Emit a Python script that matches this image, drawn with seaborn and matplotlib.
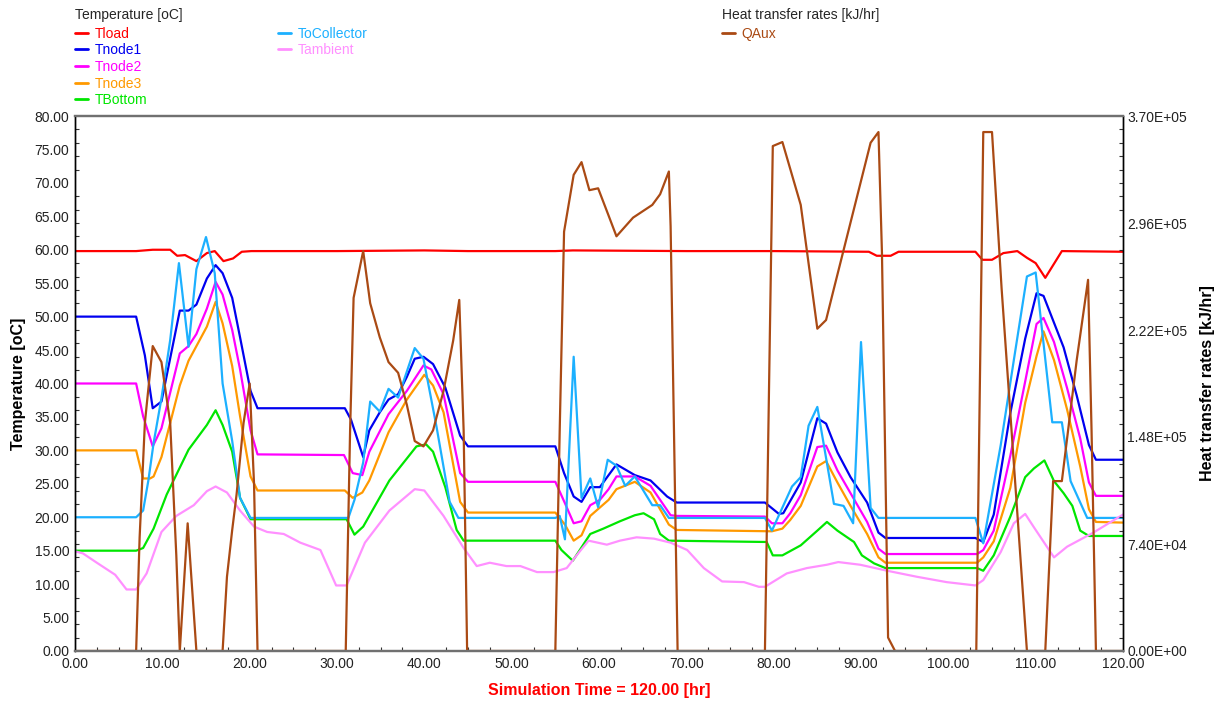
import matplotlib
matplotlib.use("Agg")
import matplotlib.pyplot as plt
import numpy as np
import pandas as pd
import seaborn as sns
from matplotlib.lines import Line2D
from matplotlib.ticker import MultipleLocator, FormatStrFormatter, FuncFormatter, AutoMinorLocator

# ---- data: simulation time [hr] and values for each output ----
tload_t = [0, 7, 8.9, 10.9, 11.7, 12.6, 13.9, 15.1, 16.0, 17.0, 18.1, 19.1, 20.2, 30, 40, 45, 55, 57,
           70, 80, 90.9, 91.8, 93.4, 94.3, 103.1, 103.9, 105.0, 106.3, 107.9, 109.0, 110.0, 111.1, 113.0, 120]
tload_v = [59.8, 59.8, 60.0, 60.0, 59.1, 59.2, 58.3, 59.5, 59.8, 58.3, 58.7, 59.7, 59.8, 59.8, 59.9, 59.8, 59.8, 59.9,
           59.8, 59.8, 59.7, 59.1, 59.1, 59.7, 59.7, 58.5, 58.5, 59.5, 59.8, 58.8, 58.0, 55.8, 59.8, 59.7]

tnode1_t = [0, 7.0, 8.0, 8.9, 9.9, 12.0, 13.0, 13.9, 15.1, 16.1, 16.9, 18.0, 18.9, 20.1, 20.9, 30.9, 31.6, 33.0,
            33.7, 34.9, 35.9, 37.0, 38.0, 38.9, 39.9, 41.0, 42.4, 44.1, 45.0, 55.0, 56.0, 57.1, 58.0, 59.0, 60.1,
            61.1, 62.0, 64.1, 65.9, 67.8, 68.9, 79.0, 80.6, 81.1, 83.1, 85.0, 86.0, 87.3, 88.8, 90.7, 92.0, 92.8,
            103.1, 104.0, 105.2, 107.1, 108.8, 110.1, 110.9, 113.2, 114.7, 116.1, 116.9, 120]
tnode1_v = [50.0, 50.0, 44.2, 36.3, 37.3, 50.9, 50.9, 51.8, 55.7, 57.7, 56.5, 52.8, 46.9, 38.9, 36.3, 36.3, 34.6, 29.0,
            33.0, 35.7, 37.6, 38.4, 41.0, 43.7, 44.0, 42.9, 39.4, 32.2, 30.6, 30.6, 26.6, 23.1, 22.3, 24.5, 24.5,
            26.3, 27.9, 26.3, 25.5, 23.1, 22.2, 22.2, 20.5, 20.6, 25.2, 34.8, 34.0, 29.7, 26.0, 22.2, 17.7, 16.9,
            16.9, 16.3, 20.4, 35.6, 46.7, 53.5, 53.1, 45.4, 38.2, 30.8, 28.6, 28.6]

tnode2_t = [0, 7.0, 7.8, 8.9, 9.9, 12.0, 13.0, 13.9, 15.1, 16.1, 16.9, 18.0, 18.9, 20.1, 20.9, 30.8, 31.8, 32.9,
            33.7, 35.9, 38.0, 39.9, 40.8, 42.2, 44.1, 45.0, 55.0, 56.1, 57.1, 58.0, 59.0, 60.1, 61.1, 62.0, 64.1,
            65.9, 68.2, 68.9, 79.0, 79.8, 81.0, 81.9, 83.1, 85.0, 86.0, 87.3, 88.8, 90.7, 92.0, 92.8, 103.3, 104.0,
            105.2, 107.1, 108.8, 110.1, 110.9, 112.1, 113.6, 115.1, 116.1, 116.9, 120]
tnode2_v = [40.0, 40.0, 35.1, 30.6, 33.3, 44.5, 45.6, 47.4, 51.2, 55.2, 53.3, 48.0, 42.1, 33.0, 29.4, 29.3, 26.6, 26.3,
            29.8, 35.4, 38.9, 42.7, 42.1, 38.4, 26.6, 25.3, 25.3, 22.1, 19.1, 19.4, 21.8, 22.6, 24.2, 26.1, 26.1,
            24.7, 20.3, 20.2, 20.1, 19.1, 19.1, 20.6, 23.3, 30.5, 30.7, 27.0, 23.6, 19.3, 15.3, 14.5, 14.5, 15.1,
            18.0, 29.2, 40.3, 48.9, 49.8, 46.2, 39.3, 31.8, 25.2, 23.2, 23.2]

tnode3_t = [0, 7.0, 7.8, 8.6, 9.0, 9.9, 12.0, 13.0, 15.1, 16.1, 16.9, 18.0, 18.9, 20.1, 20.9, 30.9, 31.8, 32.9,
            33.7, 35.9, 38.0, 40.0, 41.0, 42.2, 44.1, 45.0, 55.0, 56.1, 57.1, 58.0, 59.0, 61.1, 62.0, 64.1, 65.9,
            68.0, 68.9, 79.8, 81.0, 81.9, 83.1, 85.0, 86.0, 87.3, 88.8, 90.7, 92.0, 92.8, 103.3, 104.0, 105.2,
            107.1, 108.8, 110.1, 110.9, 112.1, 113.6, 115.1, 116.1, 116.9, 120]
tnode3_v = [30.0, 30.0, 25.8, 25.8, 26.1, 29.0, 39.7, 43.4, 48.5, 52.2, 49.0, 42.6, 35.1, 26.1, 24.0, 24.0, 22.9, 23.7,
            25.5, 32.7, 37.6, 41.3, 39.7, 35.7, 22.3, 20.7, 20.7, 18.9, 16.5, 17.3, 20.2, 22.6, 24.2, 25.3, 23.7,
            18.9, 18.1, 17.9, 18.3, 19.6, 21.7, 27.6, 28.4, 25.2, 21.7, 17.5, 14.0, 13.2, 13.2, 14.0, 16.4,
            24.4, 37.1, 44.1, 47.8, 43.5, 36.1, 27.6, 21.2, 19.3, 19.2]

tbottom_t = [0, 7.0, 7.8, 9.0, 10.5, 13.0, 15.1, 16.1, 16.9, 18.0, 18.9, 20.1, 31.1, 32.0, 33.0, 36.0, 39.1, 40.2,
             41.0, 42.4, 43.7, 44.5, 55.0, 55.7, 57.0, 59.0, 60.5, 62.4, 64.1, 65.1, 66.3, 67.0, 68.0, 79.2, 79.9,
             81.0, 83.1, 85.0, 86.1, 87.3, 89.2, 90.1, 91.5, 92.8, 103.3, 104.0, 105.2, 107.1, 108.8, 109.8, 111.0,
             112.1, 113.2, 114.2, 115.1, 116.1, 120]
tbottom_v = [15.0, 15.0, 15.4, 18.3, 23.4, 30.1, 33.8, 36.0, 33.8, 29.8, 22.9, 19.7, 19.7, 17.4, 18.6, 25.5, 30.6, 30.9,
             29.8, 24.5, 18.1, 16.5, 16.5, 15.1, 13.5, 17.5, 18.3, 19.4, 20.3, 20.6, 19.7, 17.5, 16.5, 16.3, 14.3,
             14.3, 15.8, 18.0, 19.3, 18.0, 16.3, 14.3, 13.1, 12.4, 12.4, 12.0, 14.3, 20.1, 26.0, 27.3, 28.5,
             25.4, 23.6, 21.7, 18.0, 17.2, 17.2]

tocoll_t = [0, 7.0, 7.8, 8.4, 9.0, 9.9, 10.9, 11.9, 13.0, 13.9, 15.0, 16.0, 16.9, 18.0, 18.9, 20.1, 31.3, 32.0,
            33.0, 33.8, 34.9, 35.9, 37.0, 38.9, 39.9, 41.4, 42.9, 43.9, 55.0, 55.5, 56.1, 57.1, 58.0, 59.0, 59.9,
            61.0, 62.0, 63.0, 64.1, 66.1, 67.0, 68.0, 79.0, 79.8, 82.1, 83.1, 84.0, 85.0, 86.9, 88.0, 89.1, 90.0,
            91.1, 92.0, 103.1, 104.0, 106.0, 107.5, 109.0, 110.0, 111.9, 113.0, 114.0, 115.9, 120]
tocoll_v = [20.0, 20.0, 21.0, 25.5, 31.1, 37.8, 46.5, 58.0, 45.5, 57.1, 61.9, 56.5, 40.0, 31.4, 22.9, 19.9, 19.9, 22.6,
            28.2, 37.3, 35.8, 39.2, 37.9, 45.3, 43.7, 33.5, 22.3, 19.9, 19.9, 20.2, 16.7, 44.0, 22.9, 25.8, 21.5,
            28.6, 27.7, 24.7, 26.1, 21.8, 21.8, 19.9, 19.9, 18.0, 24.6, 26.0, 33.7, 36.5, 22.0, 21.7, 19.1, 46.2,
            21.4, 19.9, 19.9, 16.1, 30.8, 43.5, 56.0, 56.6, 34.2, 34.2, 25.4, 19.9, 19.9]

tamb_t = [0, 0.9, 2.5, 4.6, 5.9, 7.0, 8.2, 9.9, 11.6, 13.6, 15.1, 16.1, 17.4, 18.9, 20.5, 22.0, 23.9, 25.8, 28.1,
          29.9, 31.1, 33.2, 36.0, 38.9, 40.0, 42.2, 44.5, 46.0, 47.5, 49.4, 51.0, 52.9, 54.8, 56.3, 57.8, 58.8,
          60.9, 62.4, 64.3, 66.3, 68.2, 70.1, 72.0, 74.1, 76.6, 78.3, 79.0, 81.5, 83.8, 86.1, 87.4, 89.9, 93.0,
          96.4, 99.8, 103.1, 104.0, 106.0, 107.5, 108.8, 109.8, 112.1, 113.6, 116.6, 120]
tamb_v = [14.9, 14.6, 13.2, 11.4, 9.2, 9.2, 11.6, 17.8, 20.2, 21.8, 23.9, 24.6, 23.7, 21.0, 18.6, 17.8, 17.5, 16.2, 15.1,
          9.8, 9.8, 16.2, 21.0, 24.2, 24.0, 20.2, 15.4, 12.7, 13.2, 12.7, 12.7, 11.8, 11.8, 12.4, 14.9, 16.5,
          15.9, 16.5, 17.0, 16.8, 16.2, 15.1, 12.4, 10.4, 10.3, 9.6, 9.6, 11.6, 12.4, 12.9, 13.3, 12.9, 12.0,
          11.1, 10.3, 9.8, 10.6, 14.8, 19.1, 20.5, 18.5, 14.0, 15.6, 17.7, 20.4]

qaux_t = [0, 7.0, 7.4, 8.0, 8.9, 9.9, 10.9, 11.6, 12.0, 12.9, 13.9, 16.9, 17.4, 18.0, 18.5, 19.3, 20.0, 20.5, 20.9,
          31.0, 31.5, 31.9, 33.0, 33.8, 34.9, 35.9, 37.0, 38.0, 38.9, 39.9, 41.0, 42.2, 43.3, 44.0, 44.5, 44.9,
          55.0, 55.5, 56.0, 57.1, 58.0, 58.9, 59.9, 61.1, 62.0, 63.9, 66.1, 67.0, 68.0, 68.2, 69.0,
          79.0, 79.9, 81.0, 83.1, 85.0, 86.0, 86.9, 91.1, 92.0, 92.4, 93.1, 93.9,
          103.2, 104.0, 105.0, 106.1, 107.9, 109.0, 111.1, 112.0, 113.0, 114.7, 116.0, 116.4, 116.9, 120]
qaux_v = [0, 0, 78600, 157700, 210900, 199800, 157700, 66100, 0, 88300, 0, 0, 51300, 83700, 108200, 157700, 185000,
          115600, 0,
          0, 152600, 244200, 276600, 240500, 216900, 199800, 192400, 170200, 145200, 141500, 152600, 179900,
          214600, 242800, 152600, 0,
          0, 152600, 290000, 329300, 338100, 318700, 320000, 301100, 286800, 299700, 308500, 315900, 331600,
          293700, 0,
          0, 349200, 352000, 308500, 222900, 228900, 250700, 351500, 358900, 275200, 9300, 0,
          0, 358900, 358900, 250700, 95300, 0, 0, 117500, 117500, 201200, 256700, 152200, 0, 0]

temp_names = ["Tload", "Tnode1", "Tnode2", "Tnode3", "TBottom", "ToCollector", "Tambient"]
temp_colors = ["#FF0000", "#0000F0", "#FF00FF", "#FF9900", "#00E600", "#1CB0FF", "#FF90FF"]
qaux_name = "QAux"
qaux_color = "#AA4A14"

temp_series = [(tload_t, tload_v), (tnode1_t, tnode1_v), (tnode2_t, tnode2_v), (tnode3_t, tnode3_v),
               (tbottom_t, tbottom_v), (tocoll_t, tocoll_v), (tamb_t, tamb_v)]

# ---- style ----
sns.set_theme(style="white")
plt.rcParams["font.family"] = ["Liberation Sans", "DejaVu Sans"]
plt.rcParams["axes.unicode_minus"] = False

temps = pd.concat(
    [pd.DataFrame({"hr": t, "value": v, "series": n}) for n, (t, v) in zip(temp_names, temp_series)],
    ignore_index=True,
)
aux = pd.DataFrame({"hr": qaux_t, "value": qaux_v})

W, H = 1217, 701
fig = plt.figure(figsize=(W / 100, H / 100), dpi=100)
ax = fig.add_axes([75 / W, 50 / H, 1048 / W, 535 / H])
ax2 = ax.twinx()

LW = 1.6
sns.lineplot(data=temps, x="hr", y="value", hue="series", hue_order=temp_names,
             palette=dict(zip(temp_names, temp_colors)), estimator=None, sort=False,
             legend=False, linewidth=LW, ax=ax)
sns.lineplot(data=aux, x="hr", y="value", color=qaux_color, estimator=None, sort=False,
             linewidth=LW, ax=ax2)

# ---- axes ----
ax.set_xlim(0, 120)
ax.set_ylim(0, 80)
ax2.set_ylim(0, 3.7e5)

ax.xaxis.set_major_locator(MultipleLocator(10))
ax.xaxis.set_minor_locator(MultipleLocator(2.5))
ax.xaxis.set_major_formatter(FormatStrFormatter("%.2f"))
ax.yaxis.set_major_locator(MultipleLocator(5))
ax.yaxis.set_minor_locator(MultipleLocator(2))
ax.yaxis.set_major_formatter(FormatStrFormatter("%.2f"))

ax2.yaxis.set_major_locator(MultipleLocator(7.4e4))
ax2.yaxis.set_minor_locator(AutoMinorLocator(8))
ax2.yaxis.set_major_formatter(FuncFormatter(lambda v, p: f"{v:.2E}"))

label_color = "#222222"
ax.tick_params(which="major", direction="inout", length=4, width=1.5, color="white",
               labelsize=10, labelcolor=label_color, pad=2,
               left=True, bottom=True, top=True, right=True, labelright=False)
ax.tick_params(which="minor", direction="in", length=3, width=0.8, color="#333333",
               left=True, bottom=True, top=False, right=False)
ax2.tick_params(which="major", direction="in", length=0, labelsize=10, labelcolor=label_color, pad=3)
ax2.tick_params(which="minor", direction="in", length=3, width=0.8, color="#333333", right=True)

for a in (ax, ax2):
    a.spines["left"].set_color("#000000")
    a.spines["right"].set_color("#000000")
    a.spines["top"].set_color("#707070")
    a.spines["bottom"].set_color("#707070")
    a.spines["left"].set_linewidth(1.0)
    a.spines["right"].set_linewidth(1.0)
    a.spines["top"].set_linewidth(1.6)
    a.spines["bottom"].set_linewidth(1.6)
ax.grid(False)
ax2.grid(False)

ax.set_xlabel("Simulation Time = 120.00 [hr]", color="#FF0000", fontsize=11.5,
              fontweight="bold", labelpad=9)
ax.set_ylabel("Temperature [oC]", color="#000000", fontsize=11.5, fontweight="bold", labelpad=6)
ax2.set_ylabel("Heat transfer rates [kJ/hr]", color="#000000", fontsize=11.5,
               fontweight="bold", labelpad=9)

# ---- legends ----
def handles(names, colors):
    return [Line2D([], [], color=c, linewidth=2.0, label=n) for n, c in zip(names, colors)]

leg_kw = dict(loc="upper left", frameon=False, fontsize=10, title_fontsize=10,
              labelcolor="linecolor", handlelength=0.95, handletextpad=0.45,
              labelspacing=0.19, borderpad=0, borderaxespad=0, alignment="left")

top = 1 - 8 / H
legends = [
    fig.legend(handles=handles(temp_names[:5], temp_colors[:5]),
               title="Temperature [oC]", bbox_to_anchor=(75 / W, top), **leg_kw),
    fig.legend(handles=handles(temp_names[5:], temp_colors[5:]),
               title=" ", bbox_to_anchor=(278 / W, top), **leg_kw),
    fig.legend(handles=handles([qaux_name], [qaux_color]),
               title="Heat transfer rates [kJ/hr]", bbox_to_anchor=(722 / W, top), **leg_kw),
]
# a little more room between each legend title and its first entry
for leg in legends:
    leg._legend_box.sep += 1.5

fig.savefig("out.png", dpi=100, facecolor="white")
